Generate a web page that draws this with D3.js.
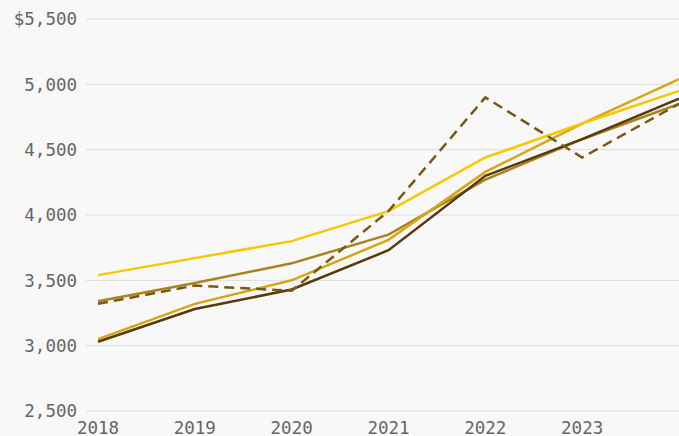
<!DOCTYPE html>
<html lang='en'>
<head>
	<meta charset='utf-8'>
	<script type='text/javascript' src='https://d3js.org/d3.v7.min.js'></script>
	<style type='text/css'>
		html, body {
			margin: 0;
			padding: 0;
			background: #f8f8f8;
		}
		.tick-label {
			font-family: 'DejaVu Sans Mono', 'Liberation Mono', monospace;
			font-size: 17.5px;
			fill: #666;
		}
	</style>
</head>
<body>
	<div id='chart'></div>
	<script type='text/javascript'>
		// data
		var years = [2018, 2019, 2020, 2021, 2022, 2023, 2024];
		var yTicks = [2500, 3000, 3500, 4000, 4500, 5000, 5500];
		var xTicks = [2018, 2019, 2020, 2021, 2022, 2023];

		var olive  = [3340, 3480, 3630, 3850, 4270, 4580, 4850];
		var gold   = [3050, 3320, 3500, 3810, 4330, 4700, 5040];
		var brown  = [3030, 3280, 3430, 3730, 4300, 4580, 4890];
		var yellow = [3540, 3670, 3800, 4030, 4440, 4700, 4950];
		var dashed = [3320, 3460, 3420, 4030, 4900, 4440, 4850];

		var series = [
			{values: olive,  color: '#a8841b', dash: null},
			{values: gold,   color: '#d8a515', dash: null},
			{values: brown,  color: '#5a390b', dash: null},
			{values: yellow, color: '#f7c700', dash: null},
			{values: dashed, color: '#7a5812', dash: '10,6'}
		];

		var width = 679,
			height = 436;

		var x = d3.scaleLinear()
			.domain([2018, 2024])
			.range([98, 679]);

		var y = d3.scaleLinear()
			.domain([2500, 5500])
			.range([411, 19]);

		var svg = d3.select('#chart')
			.append('svg')
			.attr('width', width)
			.attr('height', height)
			.style('display', 'block');

		//grid lines
		svg.selectAll('.grid')
			.data(yTicks)
			.enter()
			.append('line')
			.attr('class', 'grid')
			.attr('x1', 86)
			.attr('x2', width)
			.attr('y1', function(d){ return y(d); })
			.attr('y2', function(d){ return y(d); })
			.style('stroke', '#dcdcdc')
			.style('stroke-width', 1);

		//y labels
		var fmt = d3.format(',');
		svg.selectAll('.ylab')
			.data(yTicks)
			.enter()
			.append('text')
			.attr('class', 'tick-label')
			.attr('x', 77)
			.attr('y', function(d){ return y(d); })
			.attr('dy', '0.36em')
			.attr('text-anchor', 'end')
			.text(function(d, i){ return (i == yTicks.length - 1 ? '$' : '') + fmt(d); });

		//x labels
		svg.selectAll('.xlab')
			.data(xTicks)
			.enter()
			.append('text')
			.attr('class', 'tick-label')
			.attr('x', function(d){ return x(d); })
			.attr('y', 434)
			.attr('text-anchor', 'middle')
			.text(function(d){ return d; });

		var line = d3.line()
			.x(function(d, i){ return x(years[i]); })
			.y(function(d){ return y(d); });

		svg.selectAll('.series')
			.data(series)
			.enter()
			.append('path')
			.attr('class', 'series')
			.attr('d', function(d){ return line(d.values); })
			.style('fill', 'none')
			.style('stroke', function(d){ return d.color; })
			.style('stroke-width', 2.5)
			.style('stroke-dasharray', function(d){ return d.dash; });
	</script>
</body>
</html>
